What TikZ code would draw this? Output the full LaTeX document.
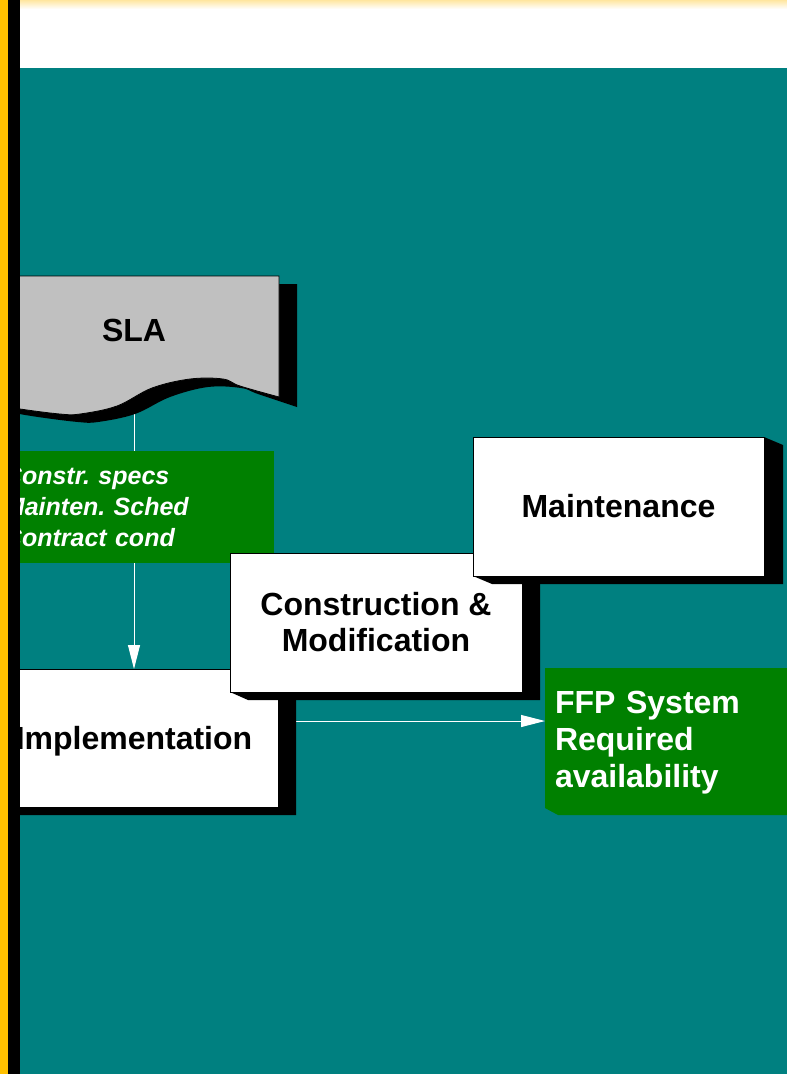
\documentclass[tikz,border=0pt]{standalone}
\usepackage{fontspec}
\setmainfont{Liberation Sans}
\usetikzlibrary{arrows.meta}
\definecolor{seateal}{HTML}{008080}
\definecolor{leafgreen}{HTML}{008000}
\definecolor{docgray}{HTML}{C0C0C0}
\definecolor{bargold}{HTML}{FFC000}
\definecolor{paleband}{HTML}{FFE6A0}
\pgfdeclarelayer{back}
\pgfdeclarelayer{links}
\pgfsetlayers{back,links,main}
\frenchspacing
% L-shaped drop shadow hugging the lower right of a rectangular node
\newcommand{\dropshade}[3]{%
  \fill[#2] (#1.north east) -- ([shift={(#3)}]#1.north east)
    -- ([shift={(#3)}]#1.south east) -- ([shift={(#3)}]#1.south west)
    -- (#1.south west) -- (#1.south east) -- cycle;}
\tikzset{
  panel/.style={rectangle, draw=black, line width=0.8pt, fill=white,
    outer sep=0pt, inner sep=0pt, text=black, align=center,
    font=\bfseries\fontsize{32}{37}\selectfont},
  notebox/.style={rectangle, fill=leafgreen, outer sep=0pt, inner ysep=0pt,
    text=white, align=left},
  conn/.style={draw=white, line width=1pt, -{Triangle[length=24pt,width=12pt]}},
}
\begin{document}
\begin{tikzpicture}[x=1pt,y=-1pt]
\useasboundingbox (0,0) rectangle (787,1074);
\clip (0,0) rectangle (787,1074);

% page background: header strip and teal field
\begin{pgfonlayer}{back}
  \fill[white] (0,0) rectangle (787,68);
  \shade[top color=paleband, bottom color=white] (0,0) rectangle (787,9);
  \fill[seateal] (0,68) rectangle (787,1074);
\end{pgfonlayer}

% SLA document shape with its shadow
\fill[black] (8,284) -- (297,284) -- (297,407)
  -- plot[smooth, tension=0.6] coordinates {(297,407) (258,394) (241,388) (208,387) (170,397) (135,414) (98,422) (78,422) (38,417) (8,412)}
  -- cycle;
\filldraw[fill=docgray, draw=black, line width=0.8pt] (-10,276) -- (279,276) -- (279,397)
  -- plot[smooth, tension=0.6] coordinates {(279,397) (240,386) (223,379) (190,379) (152,388) (117,406) (80,414) (60,414) (20,409) (-10,404)}
  -- cycle;
\node[font=\bfseries\fontsize{32}{37}\selectfont] (sla) at (134,330) {SLA};
\coordinate (slaBase) at (134,405);

% inputs taken from the SLA
\node[notebox, minimum width=284, minimum height=112, text width=256, inner xsep=14,
  font=\bfseries\itshape\fontsize{25}{31}\selectfont] (specs) at (132,507)
  {Constr. specs\\Mainten. Sched\\Contract cond};

% activity boxes
\node[panel, minimum width=288, minimum height=138, text depth=0pt] (impl) at (134,738) {Implementation};
\dropshade{impl}{black}{18,8}
\node[panel, minimum width=292, minimum height=139, font=\bfseries\fontsize{32}{36}\selectfont] (constr) at (376,622.5) {Construction \&\\Modification};
\dropshade{constr}{black}{18,8}
\node[panel, minimum width=291, minimum height=139] (maint) at (618.5,506.5) {Maintenance};
\dropshade{maint}{black}{19,8}

% outcome
\node[notebox, minimum width=275, minimum height=140, text width=255, inner xsep=10,
  font=\bfseries\fontsize{32}{37}\selectfont] (ffp) at (682.5,738)
  {\rule{0pt}{31pt}FFP System\\Required\\availability};
\dropshade{ffp}{leafgreen}{13,7}

% connectors
\begin{pgfonlayer}{links}
  \draw[conn] (slaBase) -- (slaBase |- impl.north);
  \draw[conn] (impl.east |- 0,721) -- (ffp.west |- 0,721);
\end{pgfonlayer}

% left edge bars
\fill[bargold] (0,0) rectangle (8,1074);
\fill[black] (8,0) rectangle (20,1074);
\end{tikzpicture}
\end{document}
